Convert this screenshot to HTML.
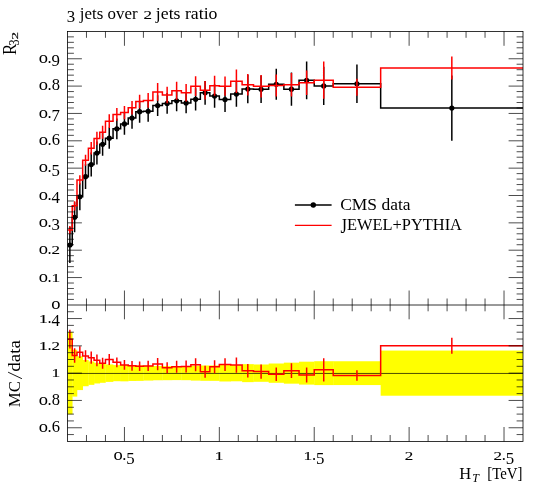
<!DOCTYPE html>
<html><head><meta charset="utf-8"><title>3 jets over 2 jets ratio</title>
<style>html,body{margin:0;padding:0;background:#fff}body{width:540px;height:487px;overflow:hidden;font-family:"Liberation Serif",serif}</style></head>
<body>
<svg width="540" height="487" viewBox="0 0 540 487" style="display:block;will-change:transform">
<rect width="540" height="487" fill="#fff"/>
<defs><clipPath id="cm"><rect x="67.5" y="31.4" width="455.5" height="273.5"/></clipPath>
<clipPath id="cr"><rect x="67.5" y="304.9" width="455.5" height="136.5"/></clipPath></defs>
<g clip-path="url(#cr)">
<g fill="#ffff00"><rect x="67.5" y="332.01" width="5.04" height="82.28"/><rect x="72.24" y="349.72" width="5.04" height="46.86"/><rect x="76.99" y="356.23" width="5.99" height="33.84"/><rect x="82.68" y="360.05" width="5.99" height="26.19"/><rect x="88.38" y="361.44" width="5.99" height="23.41"/><rect x="94.07" y="362.82" width="5.99" height="20.65"/><rect x="99.76" y="363.5" width="5.99" height="19.29"/><rect x="105.46" y="364.42" width="7.89" height="17.47"/><rect x="113.05" y="365.09" width="7.89" height="16.11"/><rect x="120.64" y="364.96" width="7.89" height="16.38"/><rect x="128.23" y="365.36" width="7.89" height="15.59"/><rect x="135.83" y="365.42" width="7.89" height="15.46"/><rect x="143.42" y="365.73" width="9.79" height="14.84"/><rect x="152.91" y="366.03" width="9.79" height="14.23"/><rect x="162.4" y="366.11" width="9.79" height="14.08"/><rect x="171.89" y="366.2" width="9.79" height="13.9"/><rect x="181.38" y="366.13" width="9.79" height="14.05"/><rect x="190.86" y="365.7" width="9.79" height="14.89"/><rect x="200.35" y="365.49" width="9.79" height="15.31"/><rect x="209.84" y="365.47" width="9.79" height="15.37"/><rect x="219.33" y="364.82" width="11.69" height="16.66"/><rect x="230.72" y="365" width="11.69" height="16.29"/><rect x="242.11" y="364.15" width="11.69" height="17.99"/><rect x="253.5" y="364.49" width="15.48" height="17.31"/><rect x="268.68" y="363.51" width="15.48" height="19.29"/><rect x="283.86" y="362.65" width="15.48" height="21.01"/><rect x="299.05" y="361.68" width="15.48" height="22.94"/><rect x="314.23" y="361.22" width="19.28" height="23.87"/><rect x="333.21" y="361.25" width="47.75" height="23.81"/><rect x="380.66" y="350.57" width="142.64" height="45.15"/></g>
<line x1="67.5" y1="373.45" x2="523" y2="373.45" stroke="#000" stroke-width="0.7"/>
<polyline fill="none" stroke="#ff0000" stroke-width="1.5" stroke-linejoin="miter" points="67.5,339.19 72.24,339.19 72.24,355.57 76.99,355.57 76.99,352.23 82.68,352.23 82.68,356.03 88.38,356.03 88.38,357.63 94.07,357.63 94.07,360.28 99.76,360.28 99.76,363.23 105.46,363.23 105.46,359.51 113.05,359.51 113.05,362.29 120.64,362.29 120.64,364.92 128.23,364.92 128.23,365.86 135.83,365.86 135.83,366.25 143.42,366.25 143.42,365.88 152.91,365.88 152.91,364.11 162.4,364.11 162.4,367.78 171.89,367.78 171.89,366.7 181.38,366.7 181.38,366.49 190.86,366.49 190.86,364.68 200.35,364.68 200.35,371.78 209.84,371.78 209.84,366.77 219.33,366.77 219.33,364.55 230.72,364.55 230.72,365.08 242.11,365.08 242.11,370.72 253.5,370.72 253.5,371.58 268.68,371.58 268.68,374.26 283.86,374.26 283.86,370.63 299.05,370.63 299.05,374.94 314.23,374.94 314.23,369.86 333.21,369.86 333.21,375.58 380.66,375.58 380.66,345.66 523,345.66"/>
<path fill="none" stroke="#ff0000" stroke-width="1.5" d="M69.87 329.84V348.54M74.62 348.33V362.81M79.84 346.36V358.1M85.53 350.21V361.85M91.22 351.51V363.75M96.92 354.38V366.18M102.61 357.77V368.69M109.25 353.91V365.11M116.85 357.41V367.16M124.44 359.97V369.87M132.03 360.97V370.76M139.62 361.42V371.08M148.16 360.68V371.08M157.65 358.01V370.22M167.14 362.23V373.34M176.63 360.67V372.74M186.12 360.57V372.4M195.61 358.15V371.22M205.1 365.8V377.76M214.59 360.2V373.35M225.03 358.18V370.91M236.41 357.46V372.69M247.8 363.97V377.47M261.09 364.48V378.68M276.27 367.49V381.03M291.45 363.19V378.07M306.64 367.47V382.42M323.72 358.18V381.53M356.93 370.34V380.81M451.83 337.69V353.63"/>
</g>
<g clip-path="url(#cm)">
<polyline fill="none" stroke="#000" stroke-width="1.5" points="67.5,245.01 72.24,245.01 72.24,217.27 76.99,217.27 76.99,196.77 82.68,196.77 82.68,176.63 88.38,176.63 88.38,164.58 94.07,164.58 94.07,153.05 99.76,153.05 99.76,144.3 105.46,144.3 105.46,138.21 113.05,138.21 113.05,128.8 120.64,128.8 120.64,123.91 128.23,123.91 128.23,118.06 135.83,118.06 135.83,111.69 143.42,111.69 143.42,111.23 152.91,111.23 152.91,105.55 162.4,105.55 162.4,103.41 171.89,103.41 171.89,100.82 181.38,100.82 181.38,102.95 190.86,102.95 190.86,99.34 200.35,99.34 200.35,92.78 209.84,92.78 209.84,95.98 219.33,95.98 219.33,99.59 230.72,99.59 230.72,94.09 242.11,94.09 242.11,89.09 253.5,89.09 253.5,89.23 268.68,89.23 268.68,84.23 283.86,84.23 283.86,89.17 299.05,89.17 299.05,80.29 314.23,80.29 314.23,85.9 333.21,85.9 333.21,83.82 380.66,83.82 380.66,108.11 523,108.11"/>
<path fill="none" stroke="#000" stroke-width="1.5" d="M69.87 226.96V263.06M74.62 202.23V232.31M79.84 183.37V210.17M85.53 164.32V188.94M91.22 152.54V176.61M96.92 141.56V164.53M102.61 132.95V155.65M109.25 127.54V148.87M116.85 118.41V139.2M124.44 113.05V134.77M132.03 107.4V128.73M139.62 100.75V122.63M148.16 100.7V121.76M157.65 95.15V115.94M167.14 93.02V113.81M176.63 90.42V111.21M186.12 92.56V113.34M195.61 88.13V110.56M205.1 80.89V104.68M214.59 84.22V107.74M225.03 87.06V112.11M236.41 81.51V106.68M247.8 74.87V103.31M261.09 75.55V102.9M276.27 68.64V99.82M291.45 72.57V105.78M306.64 61.42V99.16M323.72 66.75V105.04M356.93 64.54V103.1M451.83 75.57V140.66"/>
<g fill="#000"><circle cx="69.87" cy="245.01" r="2.6"/><circle cx="74.62" cy="217.27" r="2.6"/><circle cx="79.84" cy="196.77" r="2.6"/><circle cx="85.53" cy="176.63" r="2.6"/><circle cx="91.22" cy="164.58" r="2.6"/><circle cx="96.92" cy="153.05" r="2.6"/><circle cx="102.61" cy="144.3" r="2.6"/><circle cx="109.25" cy="138.21" r="2.6"/><circle cx="116.85" cy="128.8" r="2.6"/><circle cx="124.44" cy="123.91" r="2.6"/><circle cx="132.03" cy="118.06" r="2.6"/><circle cx="139.62" cy="111.69" r="2.6"/><circle cx="148.16" cy="111.23" r="2.6"/><circle cx="157.65" cy="105.55" r="2.6"/><circle cx="167.14" cy="103.41" r="2.6"/><circle cx="176.63" cy="100.82" r="2.6"/><circle cx="186.12" cy="102.95" r="2.6"/><circle cx="195.61" cy="99.34" r="2.6"/><circle cx="205.1" cy="92.78" r="2.6"/><circle cx="214.59" cy="95.98" r="2.6"/><circle cx="225.03" cy="99.59" r="2.6"/><circle cx="236.41" cy="94.09" r="2.6"/><circle cx="247.8" cy="89.09" r="2.6"/><circle cx="261.09" cy="89.23" r="2.6"/><circle cx="276.27" cy="84.23" r="2.6"/><circle cx="291.45" cy="89.17" r="2.6"/><circle cx="306.64" cy="80.29" r="2.6"/><circle cx="323.72" cy="85.9" r="2.6"/><circle cx="356.93" cy="83.82" r="2.6"/><circle cx="451.83" cy="108.11" r="2.6"/></g>
<polyline fill="none" stroke="#ff0000" stroke-width="1.5" points="67.5,229.98 72.24,229.98 72.24,205.79 76.99,205.79 76.99,179.97 82.68,179.97 82.68,160.26 88.38,160.26 88.38,148.32 94.07,148.32 94.07,138.4 99.76,138.4 99.76,132.27 105.46,132.27 105.46,121.18 113.05,121.18 113.05,114.4 120.64,114.4 120.64,112.6 128.23,112.6 128.23,107.68 135.83,107.68 135.83,101.5 143.42,101.5 143.42,100.49 152.91,100.49 152.91,91.91 162.4,91.91 162.4,95.05 171.89,95.05 171.89,90.73 181.38,90.73 181.38,92.65 190.86,92.65 190.86,86.14 200.35,86.14 200.35,90.19 209.84,90.19 209.84,85.76 219.33,85.76 219.33,86.2 230.72,86.2 230.72,81.17 242.11,81.17 242.11,84.77 253.5,84.77 253.5,86.28 268.68,86.28 268.68,85.54 283.86,85.54 283.86,84.72 299.05,84.72 299.05,82.75 314.23,82.75 314.23,80.13 333.21,80.13 333.21,87.26 380.66,87.26 380.66,68.05 523,68.05"/>
<path fill="none" stroke="#ff0000" stroke-width="1.5" d="M69.87 225.88V234.08M74.62 201.14V210.44M79.84 175.32V184.61M85.53 154.79V165.73M91.22 142.03V154.61M96.92 131.83V144.96M102.61 125.85V138.7M109.25 114.34V128.02M116.85 108.11V120.69M124.44 106.03V119.16M132.03 100.98V114.38M139.62 94.66V108.34M148.16 93.11V107.87M157.65 82.99V100.82M167.14 86.85V103.26M176.63 81.71V99.76M186.12 83.89V101.4M195.61 76.3V95.99M205.1 80.89V99.49M214.59 75.69V95.82M225.03 76.62V95.77M236.41 69.41V92.93M247.8 74.11V95.44M261.09 75.06V97.49M276.27 74.6V96.48M291.45 72.96V96.48M306.64 70.44V95.06M323.72 61.39V98.86M356.93 78.78V95.74M451.83 56.56V79.54"/>
</g>
<path fill="none" stroke="#000" stroke-width="0.7" d="M86.48 31.4v6.4M86.48 298.5v12.8M86.48 441.4v-6.4M105.46 31.4v6.4M105.46 298.5v12.8M105.46 441.4v-6.4M124.44 31.4v14.4M124.44 290.5v28.8M124.44 441.4v-14.4M143.42 31.4v6.4M143.42 298.5v12.8M143.42 441.4v-6.4M162.4 31.4v6.4M162.4 298.5v12.8M162.4 441.4v-6.4M181.38 31.4v6.4M181.38 298.5v12.8M181.38 441.4v-6.4M200.35 31.4v6.4M200.35 298.5v12.8M200.35 441.4v-6.4M219.33 31.4v14.4M219.33 290.5v28.8M219.33 441.4v-14.4M238.31 31.4v6.4M238.31 298.5v12.8M238.31 441.4v-6.4M257.29 31.4v6.4M257.29 298.5v12.8M257.29 441.4v-6.4M276.27 31.4v6.4M276.27 298.5v12.8M276.27 441.4v-6.4M295.25 31.4v6.4M295.25 298.5v12.8M295.25 441.4v-6.4M314.23 31.4v14.4M314.23 290.5v28.8M314.23 441.4v-14.4M333.21 31.4v6.4M333.21 298.5v12.8M333.21 441.4v-6.4M352.19 31.4v6.4M352.19 298.5v12.8M352.19 441.4v-6.4M371.17 31.4v6.4M371.17 298.5v12.8M371.17 441.4v-6.4M390.15 31.4v6.4M390.15 298.5v12.8M390.15 441.4v-6.4M409.12 31.4v14.4M409.12 290.5v28.8M409.12 441.4v-14.4M428.1 31.4v6.4M428.1 298.5v12.8M428.1 441.4v-6.4M447.08 31.4v6.4M447.08 298.5v12.8M447.08 441.4v-6.4M466.06 31.4v6.4M466.06 298.5v12.8M466.06 441.4v-6.4M485.04 31.4v6.4M485.04 298.5v12.8M485.04 441.4v-6.4M504.02 31.4v14.4M504.02 290.5v28.8M504.02 441.4v-14.4M67.5 299.43h6.4M523 299.43h-6.4M67.5 293.96h6.4M523 293.96h-6.4M67.5 288.49h6.4M523 288.49h-6.4M67.5 283.02h6.4M523 283.02h-6.4M67.5 277.55h14.4M523 277.55h-14.4M67.5 272.08h6.4M523 272.08h-6.4M67.5 266.61h6.4M523 266.61h-6.4M67.5 261.14h6.4M523 261.14h-6.4M67.5 255.67h6.4M523 255.67h-6.4M67.5 250.2h14.4M523 250.2h-14.4M67.5 244.73h6.4M523 244.73h-6.4M67.5 239.26h6.4M523 239.26h-6.4M67.5 233.79h6.4M523 233.79h-6.4M67.5 228.32h6.4M523 228.32h-6.4M67.5 222.85h14.4M523 222.85h-14.4M67.5 217.38h6.4M523 217.38h-6.4M67.5 211.91h6.4M523 211.91h-6.4M67.5 206.44h6.4M523 206.44h-6.4M67.5 200.97h6.4M523 200.97h-6.4M67.5 195.5h14.4M523 195.5h-14.4M67.5 190.03h6.4M523 190.03h-6.4M67.5 184.56h6.4M523 184.56h-6.4M67.5 179.09h6.4M523 179.09h-6.4M67.5 173.62h6.4M523 173.62h-6.4M67.5 168.15h14.4M523 168.15h-14.4M67.5 162.68h6.4M523 162.68h-6.4M67.5 157.21h6.4M523 157.21h-6.4M67.5 151.74h6.4M523 151.74h-6.4M67.5 146.27h6.4M523 146.27h-6.4M67.5 140.8h14.4M523 140.8h-14.4M67.5 135.33h6.4M523 135.33h-6.4M67.5 129.86h6.4M523 129.86h-6.4M67.5 124.39h6.4M523 124.39h-6.4M67.5 118.92h6.4M523 118.92h-6.4M67.5 113.45h14.4M523 113.45h-14.4M67.5 107.98h6.4M523 107.98h-6.4M67.5 102.51h6.4M523 102.51h-6.4M67.5 97.04h6.4M523 97.04h-6.4M67.5 91.57h6.4M523 91.57h-6.4M67.5 86.1h14.4M523 86.1h-14.4M67.5 80.63h6.4M523 80.63h-6.4M67.5 75.16h6.4M523 75.16h-6.4M67.5 69.69h6.4M523 69.69h-6.4M67.5 64.22h6.4M523 64.22h-6.4M67.5 58.75h14.4M523 58.75h-14.4M67.5 53.28h6.4M523 53.28h-6.4M67.5 47.81h6.4M523 47.81h-6.4M67.5 42.34h6.4M523 42.34h-6.4M67.5 36.87h6.4M523 36.87h-6.4M67.5 434.57h6.4M523 434.57h-6.4M67.5 427.75h14.4M523 427.75h-14.4M67.5 420.92h6.4M523 420.92h-6.4M67.5 414.1h6.4M523 414.1h-6.4M67.5 407.27h6.4M523 407.27h-6.4M67.5 400.45h14.4M523 400.45h-14.4M67.5 393.62h6.4M523 393.62h-6.4M67.5 386.8h6.4M523 386.8h-6.4M67.5 379.97h6.4M523 379.97h-6.4M67.5 373.15h14.4M523 373.15h-14.4M67.5 366.32h6.4M523 366.32h-6.4M67.5 359.5h6.4M523 359.5h-6.4M67.5 352.67h6.4M523 352.67h-6.4M67.5 345.85h14.4M523 345.85h-14.4M67.5 339.02h6.4M523 339.02h-6.4M67.5 332.2h6.4M523 332.2h-6.4M67.5 325.38h6.4M523 325.38h-6.4M67.5 318.55h14.4M523 318.55h-14.4M67.5 311.73h6.4M523 311.73h-6.4"/>
<rect x="67.5" y="31.4" width="455.5" height="410" fill="none" stroke="#000" stroke-width="0.8"/>
<line x1="67.5" y1="305" x2="523" y2="305" stroke="#000" stroke-width="0.8"/>
<line x1="294.9" y1="205" x2="331.6" y2="205" stroke="#000" stroke-width="1.5"/><circle cx="313.3" cy="205" r="2.7" fill="#000"/>
<line x1="294.9" y1="225.3" x2="331.6" y2="225.3" stroke="#ff0000" stroke-width="1.2"/>
<g font-family="'Liberation Serif', serif" font-size="16.5" fill="#000">
<text transform="translate(66.8,22.3) scale(1.02,1.03)">3</text>
<text x="79.85" y="19.3" textLength="57.7" lengthAdjust="spacingAndGlyphs">jets over</text>
<text transform="translate(143.4,19.3) scale(1.03,0.71)" stroke="#000" stroke-width="0.15">2</text>
<text x="155.85" y="19.3" textLength="61.6" lengthAdjust="spacingAndGlyphs">jets ratio</text>
<text x="340.2" y="209.5" textLength="70.3" lengthAdjust="spacingAndGlyphs">CMS data</text>
<text transform="translate(340.5,232.6) scale(1,1.25)">J</text>
<text x="346.9" y="229.9" textLength="115.1" lengthAdjust="spacingAndGlyphs">EWEL+PYTHIA</text>
<text transform="translate(51.15,309) scale(1.12,1)">o</text>
<text transform="translate(38.77,281.65) scale(1.12,1)">o</text><text x="47.52" y="281.65">.</text><text transform="translate(51.4,281.65) scale(1.05,0.71)" stroke="#000" stroke-width="0.2">1</text>
<text transform="translate(38.77,254.3) scale(1.12,1)">o</text><text x="47.52" y="254.3">.</text><text transform="translate(51.55,254.3) scale(1.03,0.71)" stroke="#000" stroke-width="0.15">2</text>
<text transform="translate(38.77,226.95) scale(1.12,1)">o</text><text x="47.52" y="226.95">.</text><text transform="translate(51.55,230.45) scale(1.02,1.03)">3</text>
<text transform="translate(38.77,199.6) scale(1.12,1)">o</text><text x="47.52" y="199.6">.</text><text transform="translate(51.55,203.1) scale(1.02,1.03)">4</text>
<text transform="translate(38.77,172.25) scale(1.12,1)">o</text><text x="47.52" y="172.25">.</text><text transform="translate(51.55,175.75) scale(1.02,1.03)">5</text>
<text transform="translate(38.77,144.9) scale(1.12,1)">o</text><text x="47.52" y="144.9">.</text><text x="51.65" y="144.9">6</text>
<text transform="translate(38.77,117.55) scale(1.12,1)">o</text><text x="47.52" y="117.55">.</text><text transform="translate(51.55,121.05) scale(1.02,1.03)">7</text>
<text transform="translate(38.77,90.2) scale(1.12,1)">o</text><text x="47.52" y="90.2">.</text><text x="51.65" y="90.2">8</text>
<text transform="translate(38.77,62.85) scale(1.12,1)">o</text><text x="47.52" y="62.85">.</text><text transform="translate(51.55,66.35) scale(1.02,1.03)">9</text>
<text transform="translate(38.77,431.85) scale(1.12,1)">o</text><text x="47.52" y="431.85">.</text><text x="51.65" y="431.85">6</text>
<text transform="translate(38.77,404.55) scale(1.12,1)">o</text><text x="47.52" y="404.55">.</text><text x="51.65" y="404.55">8</text>
<text transform="translate(51.4,377.25) scale(1.05,0.71)" stroke="#000" stroke-width="0.2">1</text>
<text transform="translate(39.03,349.95) scale(1.05,0.71)" stroke="#000" stroke-width="0.2">1</text><text x="47.52" y="349.95">.</text><text transform="translate(51.55,349.95) scale(1.03,0.71)" stroke="#000" stroke-width="0.15">2</text>
<text transform="translate(39.03,322.65) scale(1.05,0.71)" stroke="#000" stroke-width="0.2">1</text><text x="47.52" y="322.65">.</text><text transform="translate(51.55,326.15) scale(1.02,1.03)">4</text>
<text transform="translate(113.42,460) scale(1.12,1)">o</text><text x="122.17" y="460">.</text><text transform="translate(126.2,463.5) scale(1.02,1.03)">5</text>
<text transform="translate(214.76,460) scale(1.05,0.71)" stroke="#000" stroke-width="0.2">1</text>
<text transform="translate(303.47,460) scale(1.05,0.71)" stroke="#000" stroke-width="0.2">1</text><text x="311.97" y="460">.</text><text transform="translate(315.99,463.5) scale(1.02,1.03)">5</text>
<text transform="translate(404.7,460) scale(1.03,0.71)" stroke="#000" stroke-width="0.15">2</text>
<text transform="translate(493.41,460) scale(1.03,0.71)" stroke="#000" stroke-width="0.15">2</text><text x="501.76" y="460">.</text><text transform="translate(505.78,463.5) scale(1.02,1.03)">5</text>
<text x="459.2" y="478.8">H</text>
<text x="472.3" y="481.7" font-size="12" font-style="italic">T</text>
<text x="487.2" y="478.8" textLength="35.2" lengthAdjust="spacingAndGlyphs">[TeV]</text>
<text transform="translate(16.1,55.0) rotate(-90) scale(1.03,1.08)">R</text>
<text transform="translate(19.0,45.5) rotate(-90) scale(1,1.22)" font-size="12">3</text>
<text transform="translate(18.3,39.6) rotate(-90) scale(1.25,0.66)" font-size="12" stroke="#000" stroke-width="0.25">2</text>
<text transform="translate(19.9,407.2) rotate(-90)" textLength="26.3" lengthAdjust="spacingAndGlyphs">MC</text>
<line x1="21.9" y1="378.7" x2="8.1" y2="372.2" stroke="#000" stroke-width="0.9"/>
<text transform="translate(19.9,371.8) rotate(-90)" textLength="31.7" lengthAdjust="spacingAndGlyphs">data</text>
</g>
</svg>
</body></html>
